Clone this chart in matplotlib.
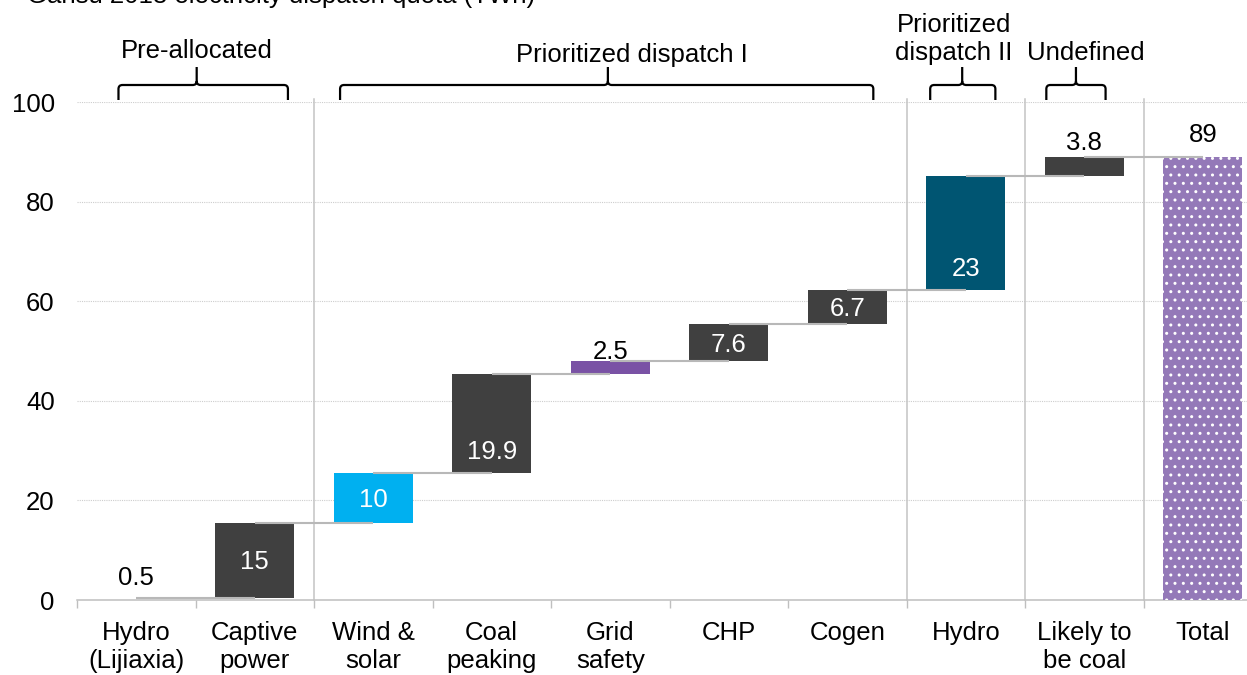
import numpy as np
import matplotlib.pyplot as plt
from matplotlib.path import Path
from matplotlib.patches import PathPatch

plt.rcParams['font.family'] = ['Liberation Sans', 'DejaVu Sans']
plt.rcParams['font.size'] = 18.5
plt.rcParams['hatch.color'] = 'white'
plt.rcParams['hatch.linewidth'] = 1.0

# Gansu 2018 dispatch quota, TWh
categories = ['Hydro\n(Lijiaxia)', 'Captive\npower', 'Wind &\nsolar', 'Coal\npeaking',
              'Grid\nsafety', 'CHP', 'Cogen', 'Hydro', 'Likely to\nbe coal', 'Total']
steps = [0.5, 15, 10, 19.9, 2.5, 7.6, 6.7, 23, 3.8]
step_labels = ['0.5', '15', '10', '19.9', '2.5', '7.6', '6.7', '23', '3.8']
total = 89
total_label = '89'

groups = ['Pre-allocated', 'Prioritized dispatch I', 'Prioritized\ndispatch II', 'Undefined']

# styling
dark = '#404040'
bar_colors = ['none', dark, '#00B0F0', dark, '#7A52A5', dark, dark, '#005572', dark]
total_color = '#9479B8'
# where each label sits: above the bar, in the middle, or near the bar base
label_modes = ['above', 'mid', 'mid', 'base', 'above', 'mid', 'mid', 'base', 'above']
above_gap_px = {0: 13, 4: 2, 8: 7}
group_breaks = [1.5, 6.5, 7.5, 8.5]
brace_spans = [(-0.15, 1.28), (1.72, 6.22), (6.70, 7.25), (7.68, 8.18)]
brace_tips = [0.51, 3.98, 6.97, 7.93]
group_text_x = [0.51, 4.18, 6.90, 8.01]
group_text_y = [63, 67, 65, 65]

W, H = 1247, 675
fig = plt.figure(figsize=(W / 100, H / 100), dpi=100)
ax_l, ax_b, ax_w, ax_h = 77 / W, 75 / H, 1185 / W, 498 / H
ax = fig.add_axes([ax_l, ax_b, ax_w, ax_h])

x = np.arange(len(categories))
tops = np.cumsum(steps)
bottoms = tops - np.array(steps)

ax.bar(x[:-1], steps, bottom=bottoms, width=0.67, color=bar_colors, zorder=3)
ax.bar(x[-1], total, width=0.67, color=total_color, edgecolor='white', linewidth=0,
       hatch='..', zorder=3)

# connectors: from the centre of each bar to the centre of the next one
for i, t in enumerate(tops):
    ax.plot([x[i], x[i + 1]], [t, t], color='#B8B8B8', lw=1.5, zorder=4,
            solid_capstyle='butt')

px2pt = 0.72
for i, (lab, mode) in enumerate(zip(step_labels, label_modes)):
    if mode == 'above':
        ax.annotate(lab, (x[i], tops[i]), xytext=(0, above_gap_px[i] * px2pt),
                    textcoords='offset points', ha='center', va='baseline',
                    color='black', zorder=5)
    elif mode == 'mid':
        ax.annotate(lab, (x[i], (tops[i] + bottoms[i]) / 2), xytext=(0, -9 * px2pt),
                    textcoords='offset points', ha='center', va='baseline',
                    color='white', zorder=5)
    else:
        ax.annotate(lab, (x[i], bottoms[i]), xytext=(0, 14.5 * px2pt),
                    textcoords='offset points', ha='center', va='baseline',
                    color='white', zorder=5)
ax.annotate(total_label, (x[-1], total), xytext=(0, 15 * px2pt),
            textcoords='offset points', ha='center', va='baseline', zorder=5)

# group separators
for b in group_breaks:
    ax.plot([b, b], [0, 100.7], color='#C4C4C4', lw=1.1, zorder=2, clip_on=False)

ax.set_xlim(-0.5, len(categories) - 0.5)
ax.set_ylim(0, 100)
ax.set_yticks(np.arange(0, 101, 20))
ax.set_xticks(x)
ax.set_xticklabels(categories)
ax.set_xticks(np.arange(-0.5, len(categories), 1), minor=True)
ax.tick_params(axis='x', which='major', length=0, pad=15)
ax.tick_params(axis='x', which='minor', length=5.5, color='#BFBFBF', width=1)
ax.tick_params(axis='y', length=0, pad=16)
ax.yaxis.grid(True, color='#CDCDCD', linestyle=(0, (1, 1)), lw=0.8, zorder=0)
ax.set_axisbelow(True)
for side in ['left', 'right', 'top']:
    ax.spines[side].set_visible(False)
ax.spines['bottom'].set_color('#BFBFBF')
ax.spines['bottom'].set_linewidth(1.1)

# overlay for the group braces: x in category units, y in pixels from the top
ov = fig.add_axes([ax_l, 0, ax_w, 1])
ov.set_xlim(ax.get_xlim())
ov.set_ylim(H, 0)
ov.axis('off')
ov.patch.set_alpha(0)


def brace(a, x0, x1, xc, yb=100, yh=85, yt=67, r=4):
    # r is in pixels; convert horizontal radius to category units
    rx = r / 118.5
    verts = [(x0, yb), (x0, yh + r), (x0, yh), (x0 + rx, yh), (xc - rx, yh), (xc, yh), (xc, yh - r),
             (xc, yt),
             (xc, yh - r), (xc, yh), (xc + rx, yh), (x1 - rx, yh), (x1, yh), (x1, yh + r), (x1, yb)]
    codes = [Path.MOVETO, Path.LINETO, Path.CURVE3, Path.CURVE3, Path.LINETO, Path.CURVE3, Path.CURVE3,
             Path.LINETO,
             Path.MOVETO, Path.CURVE3, Path.CURVE3, Path.LINETO, Path.CURVE3, Path.CURVE3, Path.LINETO]
    a.add_patch(PathPatch(Path(verts, codes), fill=False, edgecolor='black', lw=1.6,
                          capstyle='butt'))


for (s0, s1), tip, name, tx, ty in zip(brace_spans, brace_tips, groups, group_text_x, group_text_y):
    brace(ov, s0, s1, tip)
    ov.text(tx, ty, name, ha='center', va='bottom', linespacing=1.2)

fig.text(27 / W, 1 - 3 / H, 'Gansu 2018 electricity dispatch quota (TWh)',
         ha='left', va='baseline')

fig.savefig('out.png', dpi=100)
